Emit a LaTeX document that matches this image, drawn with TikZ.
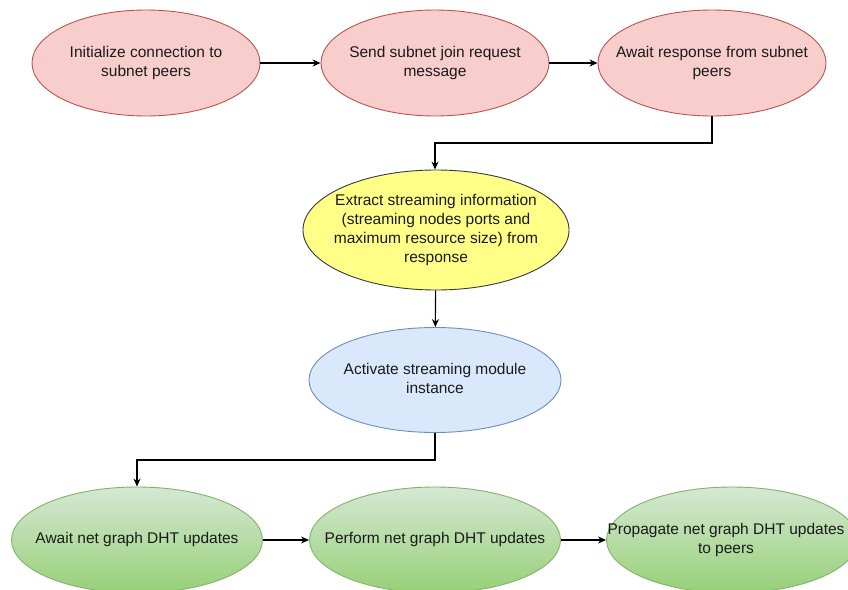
\documentclass[tikz,border=0pt]{standalone}
\usepackage{fontspec}
\setmainfont{Liberation Sans}
\usetikzlibrary{shapes.geometric,arrows.meta}
\definecolor{redfill}{HTML}{F8CECC}
\definecolor{redline}{HTML}{B85450}
\definecolor{yelfill}{HTML}{FFFF88}
\definecolor{yelline}{HTML}{36393D}
\definecolor{bluefill}{HTML}{DAE8FC}
\definecolor{blueline}{HTML}{6C8EBF}
\definecolor{greentop}{HTML}{D5E8D4}
\definecolor{greenbot}{HTML}{97D077}
\definecolor{greenline}{HTML}{82B366}
\definecolor{txt}{HTML}{1A1A1A}
\newcommand\ztext[1]{\makebox[0pt]{\begin{tabular}{@{}c@{}}#1\end{tabular}}}
\tikzset{
  lbl/.style={font=\fontsize{15.5}{19}\selectfont, text=txt, inner sep=0pt},
  ell/.style={ellipse, inner sep=0pt, line width=0.9pt, lbl},
  redell/.style={ell, draw=redline, fill=redfill, minimum width=228pt, minimum height=106pt},
  yelell/.style={ell, draw=yelline, fill=yelfill, minimum width=266pt, minimum height=120pt},
  blueell/.style={ell, draw=blueline, fill=bluefill, minimum width=252pt, minimum height=105pt},
  greenell/.style={ell, draw=greenline, top color=greentop, bottom color=greenbot, minimum width=251pt, minimum height=106pt},
  conn/.style={line width=1.1pt, -{Stealth[length=8pt,width=7pt]}}
}
\begin{document}
\begin{tikzpicture}[x=1pt,y=-1pt]
\useasboundingbox (0,0) rectangle (848,589);
\clip (0,0) rectangle (848,589);
\fill[white] (0,0) rectangle (848,589);
\node[redell] (r1) at (146,63) {\ztext{Initialize connection to\\subnet peers}};
\node[redell] (r2) at (435,63) {\ztext{Send subnet join request\\message}};
\node[redell] (r3) at (712,63) {\ztext{Await response from subnet\\peers}};
\node[yelell] (y) at (436,230) {\ztext{Extract streaming information\\(streaming nodes ports and\\maximum resource size) from\\response}};
\node[blueell] (b) at (435,380) {\ztext{Activate streaming module\\instance}};
\node[greenell] (g1) at (137,540) {\ztext{Await net graph DHT updates}};
\node[greenell] (g2) at (435,540) {\ztext{Perform net graph DHT updates}};
\node[greenell] (g3) at (732,540) {};
\node[lbl] (g3t) at (726,540) {\ztext{Propagate net graph DHT updates\\to peers}};
\coordinate (k1) at (712,143);
\coordinate (k2) at (435,143);
\coordinate (k3) at (435,460);
\coordinate (k4) at (137,460);
\draw[conn] (r1) -- (r2);
\draw[conn] (r2) -- (r3);
\draw[conn] (r3.south) -- (k1) -- (k2) -- (y.north -| k2);
\draw[conn] (y) -- (b);
\draw[conn] (b.south) -- (k3) -- (k4) -- (g1.north);
\draw[conn] (g1) -- (g2);
\draw[conn] (g2) -- (g3);
\end{tikzpicture}
\end{document}
